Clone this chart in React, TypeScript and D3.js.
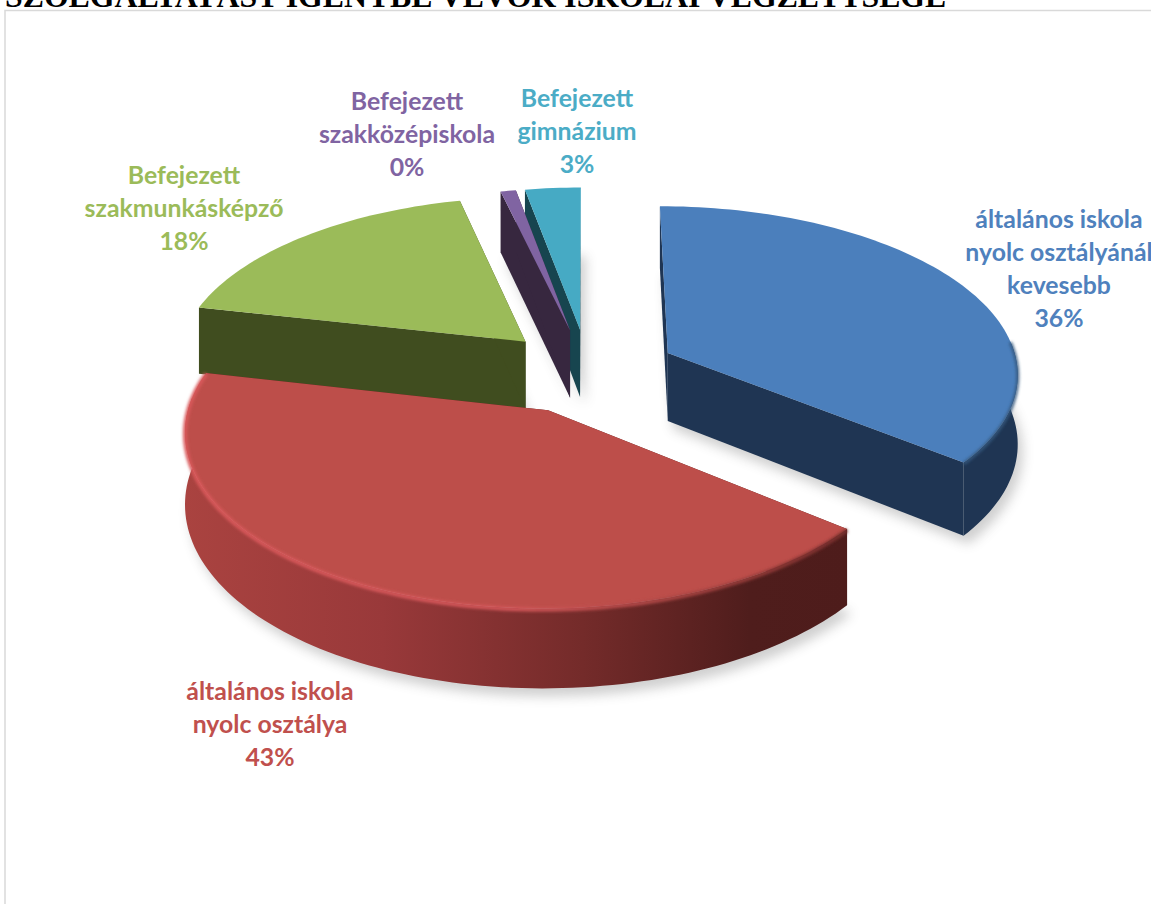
import * as d3 from 'd3';

const categories = [
  ['általános iskola', 'nyolc osztályánál', 'kevesebb'],
  ['általános iskola', 'nyolc osztálya'],
  ['Befejezett', 'szakmunkásképző'],
  ['Befejezett', 'szakközépiskola'],
  ['Befejezett', 'gimnázium'],
];
const shares = [35.8, 42.7, 17.8, 0.8, 2.9];
const shareLabels = ['36%', '43%', '18%', '0%', '3%'];
const topColours = ['#4b7fbc', '#bd4e4a', '#9bbb59', '#8064a2', '#46aac4'];
const wallColours = ['#1f3553', '#5a2220', '#404d1f', '#37273f', '#17454f'];
const labelColours = ['#4f81bd', '#c0504d', '#9bbb59', '#8064a2', '#4bacc6'];
const labelAnchors = [
  [1059, 228],
  [270, 700],
  [184, 184],
  [407, 110],
  [577, 107],
];
const title = 'SZOLGÁLTATÁST IGÉNYBE VEVŐK ISKOLAI VÉGZETTSÉGE';

const width = 1151;
const height = 904;
const centerX = 588;
const centerY = 371;
const radius = 351;
const tilt = 0.475;
const perspective = 9;
const explode = 0.255;
const depth = 69;

type Pt = [number, number];

function project(x: number, y: number, drop = 0): Pt {
  const s = 1 / (1 - y / perspective);
  return [centerX + x * radius * s, centerY + y * tilt * radius * s + drop * s];
}

const line = d3.line<Pt>();
const closed = (pts: Pt[]) => `${line(pts)}Z`;

const pie = d3.pie<number>().sort(null).value((d) => d);

const slices = pie(shares).map((arc, i) => {
  const mid = (arc.startAngle + arc.endAngle) / 2;
  const ox = Math.sin(mid) * explode;
  const oy = -Math.cos(mid) * explode;
  const count = Math.max(4, Math.ceil((arc.endAngle - arc.startAngle) * 40));
  const angles = d3.range(count + 1).map(
    (k) => arc.startAngle + ((arc.endAngle - arc.startAngle) * k) / count
  );
  const rim = (a: number, drop = 0) =>
    project(ox + Math.sin(a), oy - Math.cos(a), drop);
  const apex = (drop = 0) => project(ox, oy, drop);
  const outline = (drop = 0): Pt[] => [
    apex(drop),
    ...angles.map((a) => rim(a, drop)),
  ];
  const face = (a: number): Pt[] => [apex(), rim(a), rim(a, depth), apex(depth)];
  // the outer wall only shows where it turns towards the viewer
  const front = angles.filter((a) => Math.cos(a) < 0.08);
  const wall: Pt[] = front.length
    ? [...front.map((a) => rim(a)), ...[...front].reverse().map((a) => rim(a, depth))]
    : [];
  return { i, angles, outline, face, wall, front, rim, arc };
});

// teal first, red last, so nearer slices cover further ones
const drawOrder = [4, 3, 2, 0, 1];

export default function App() {
  const ordered = drawOrder.map((i) => slices[i]);
  const red = slices[1];
  const blue = slices[0];

  return (
    <svg
      width={width}
      height={height}
      viewBox={`0 0 ${width} ${height}`}
      style={{ position: 'fixed', left: 0, top: 0, background: '#fff', display: 'block' }}
    >
      <defs>
        <filter id="shadow" x="-20%" y="-20%" width="140%" height="140%">
          <feGaussianBlur stdDeviation="6" />
        </filter>
        <filter id="soft" x="-10%" y="-10%" width="120%" height="120%">
          <feGaussianBlur stdDeviation="1.4" />
        </filter>
        <linearGradient id="redWall" gradientUnits="userSpaceOnUse" x1="182" x2="850" y1="0" y2="0">
          <stop offset="0" stopColor="#aa4340" />
          <stop offset="0.3" stopColor="#99393a" />
          <stop offset="0.6" stopColor="#742b2a" />
          <stop offset="0.85" stopColor="#4f1d1c" />
          <stop offset="1" stopColor="#4e1c1b" />
        </linearGradient>
        <linearGradient id="redBevel" gradientUnits="userSpaceOnUse" x1="182" x2="850" y1="0" y2="0">
          <stop offset="0" stopColor="#d9585a" />
          <stop offset="0.5" stopColor="#d4575a" />
          <stop offset="0.75" stopColor="#a84442" />
          <stop offset="1" stopColor="#7a2f2d" />
        </linearGradient>
      </defs>

      <text
        x={5}
        y={7}
        fontFamily="'Liberation Serif', serif"
        fontWeight={700}
        fontSize={31.8}
        fill="#000"
      >
        {title}
      </text>
      <path
        d={`M5,${height}V10.5H${width}`}
        fill="none"
        stroke="#d9d9d9"
        strokeWidth={1.5}
      />

      <g filter="url(#shadow)" opacity={0.28} transform="translate(5,8)">
        {ordered.map((s) => (
          <path key={s.i} d={closed(s.outline(depth))} fill="#555" />
        ))}
      </g>

      {ordered.map((s) => (
        <g key={s.i}>
          <path d={closed(s.face(s.arc.startAngle))} fill={wallColours[s.i]} />
          <path d={closed(s.face(s.arc.endAngle))} fill={wallColours[s.i]} />
          {s.wall.length > 0 && (
            <path
              d={closed(s.wall)}
              fill={s.i === 1 ? 'url(#redWall)' : wallColours[s.i]}
            />
          )}
          <path d={closed(s.outline())} fill={topColours[s.i]} />
        </g>
      ))}

      <path
        d={line(red.angles.map((a) => red.rim(a, 1))) ?? ''}
        fill="none"
        stroke="url(#redBevel)"
        strokeWidth={4}
        filter="url(#soft)"
      />
      <path
        d={line(blue.front.map((a) => blue.rim(a, 1))) ?? ''}
        fill="none"
        stroke="#34597f"
        strokeWidth={3}
        filter="url(#soft)"
      />

      {categories.map((lines, i) => (
        <text
          key={i}
          textAnchor="middle"
          fontFamily="Lato, 'Open Sans', sans-serif"
          fontWeight={700}
          fontSize={24.8}
          fill={labelColours[i]}
        >
          {[...lines, shareLabels[i]].map((t, k) => (
            <tspan key={k} x={labelAnchors[i][0]} y={labelAnchors[i][1] + k * 33}>
              {t}
            </tspan>
          ))}
        </text>
      ))}
    </svg>
  );
}
